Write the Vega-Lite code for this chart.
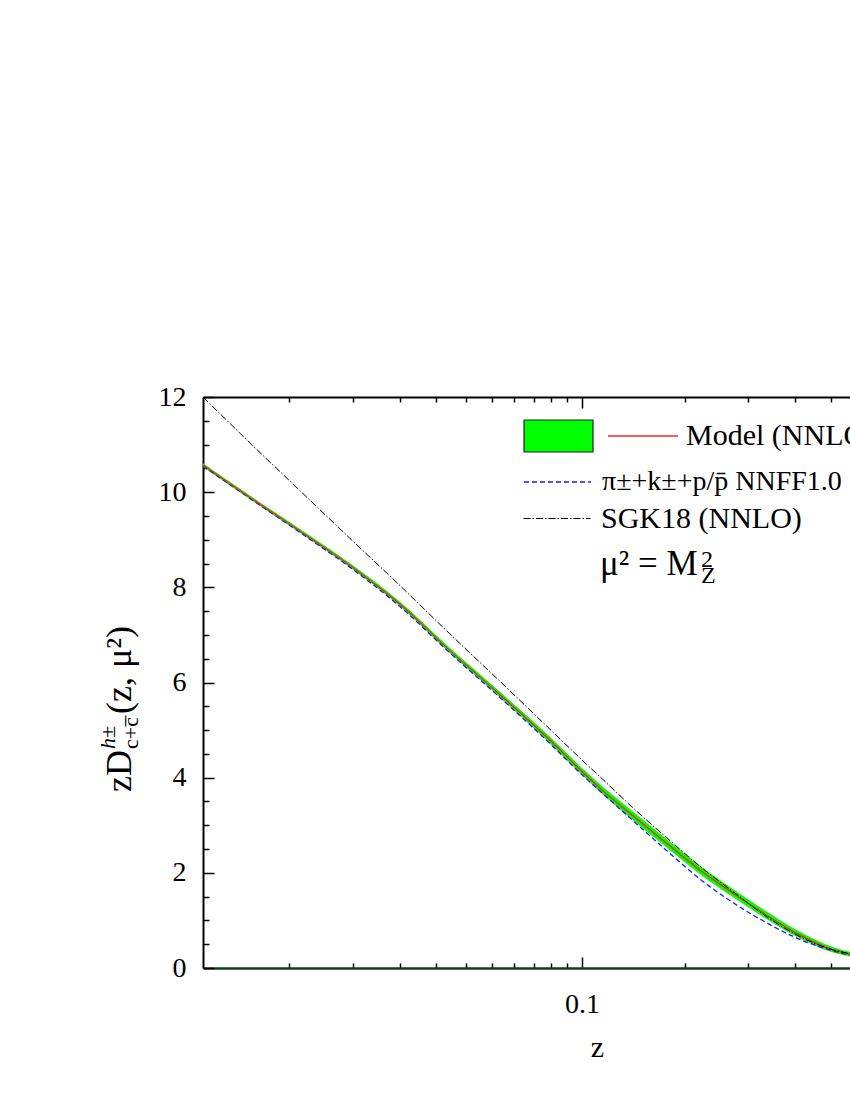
{
  "$schema": "https://vega.github.io/schema/vega-lite/v6.json",
  "width": 647,
  "height": 571,
  "autosize": {"type": "none"},
  "padding": {"left": 203, "top": 397, "right": 0, "bottom": 132},
  "background": "white",
  "datasets": {
    "curves": [
      {"z": 0.011, "red": 10.57, "lo": 10.53, "hi": 10.61, "blue": 10.55, "black": 12.0},
      {"z": 0.0144, "red": 9.90, "lo": 9.86, "hi": 9.94, "blue": 9.88, "black": 11.05},
      {"z": 0.0193, "red": 9.19, "lo": 9.15, "hi": 9.23, "blue": 9.16, "black": 10.04},
      {"z": 0.0258, "red": 8.47, "lo": 8.425, "hi": 8.515, "blue": 8.43, "black": 9.04},
      {"z": 0.0346, "red": 7.65, "lo": 7.60, "hi": 7.70, "blue": 7.60, "black": 8.04},
      {"z": 0.0462, "red": 6.68, "lo": 6.625, "hi": 6.735, "blue": 6.63, "black": 7.03},
      {"z": 0.0619, "red": 5.75, "lo": 5.69, "hi": 5.81, "blue": 5.69, "black": 6.03},
      {"z": 0.0829, "red": 4.79, "lo": 4.72, "hi": 4.86, "blue": 4.72, "black": 5.02},
      {"z": 0.1, "red": 4.13, "lo": 4.055, "hi": 4.205, "blue": 4.06, "black": 4.37},
      {"z": 0.111, "red": 3.78, "lo": 3.70, "hi": 3.86, "blue": 3.72, "black": 4.02},
      {"z": 0.1344, "red": 3.20, "lo": 3.11, "hi": 3.29, "blue": 3.10, "black": 3.37},
      {"z": 0.1636, "red": 2.62, "lo": 2.53, "hi": 2.71, "blue": 2.47, "black": 2.74},
      {"z": 0.1986, "red": 2.06, "lo": 1.97, "hi": 2.15, "blue": 1.87, "black": 2.14},
      {"z": 0.2412, "red": 1.57, "lo": 1.485, "hi": 1.655, "blue": 1.37, "black": 1.60},
      {"z": 0.2929, "red": 1.11, "lo": 1.03, "hi": 1.19, "blue": 0.95, "black": 1.08},
      {"z": 0.3557, "red": 0.69, "lo": 0.62, "hi": 0.76, "blue": 0.60, "black": 0.66},
      {"z": 0.4319, "red": 0.38, "lo": 0.325, "hi": 0.435, "blue": 0.36, "black": 0.38},
      {"z": 0.4761, "red": 0.29, "lo": 0.24, "hi": 0.34, "blue": 0.27, "black": 0.30},
      {"z": 0.55, "red": 0.18, "lo": 0.14, "hi": 0.22, "blue": 0.16, "black": 0.18},
      {"z": 0.65, "red": 0.09, "lo": 0.06, "hi": 0.12, "blue": 0.08, "black": 0.09}
    ]
  },
  "layer": [
    {
      "data": {"name": "curves"},
      "mark": {"type": "area", "interpolate": "monotone", "clip": true},
      "encoding": {
        "x": {
          "field": "z", "type": "quantitative",
          "scale": {"type": "log", "domain": [0.011, 0.4761], "nice": false},
          "axis": {
            "orient": "bottom",
            "values": [0.01818, 0.02636, 0.03455, 0.04273, 0.05091, 0.05909, 0.06727, 0.07545, 0.08364, 0.09182, 0.1, 0.1818, 0.2636, 0.3455, 0.4273],
            "labelExpr": "datum.value == 0.1 ? '0.1' : ''",
            "tickSize": {"condition": {"test": "datum.value == 0.1", "value": -11}, "value": -5},
            "labelPadding": 33,
            "labelFont": "Liberation Serif", "labelFontSize": 28, "labelColor": "black",
            "labelOverlap": false, "labelFlush": false, "labelBound": false,
            "domainColor": "#143d14", "domainWidth": 2.5,
            "tickColor": "black", "tickWidth": 1.5,
            "grid": false,
            "title": "z", "titleFont": "Liberation Serif", "titleFontSize": 30, "titleFontWeight": "normal", "titleColor": "black",
            "titleX": 394, "titleY": 88, "titleAlign": "center", "titleBaseline": "alphabetic"
          }
        },
        "y": {
          "field": "lo", "type": "quantitative",
          "scale": {"domain": [0, 12], "nice": false, "zero": false},
          "axis": {
            "orient": "left",
            "values": [0, 0.5, 1, 1.5, 2, 2.5, 3, 3.5, 4, 4.5, 5, 5.5, 6, 6.5, 7, 7.5, 8, 8.5, 9, 9.5, 10, 10.5, 11, 11.5, 12],
            "labelExpr": "datum.value % 2 == 0 ? format(datum.value, 'd') : ''",
            "tickSize": {"condition": {"test": "datum.value % 2 == 0", "value": -11}, "value": -6},
            "labelPadding": 28,
            "labelFont": "Liberation Serif", "labelFontSize": 28, "labelColor": "black",
            "labelOverlap": false, "labelFlush": false, "labelBound": false,
            "domainColor": "black", "domainWidth": 2,
            "tickColor": "black", "tickWidth": 1.5,
            "grid": false, "title": null
          }
        },
        "y2": {"field": "hi"},
        "fill": {
          "datum": "band",
          "scale": {"range": ["#00ff00"]},
          "legend": {
            "orient": "none", "legendX": 320, "legendY": 3.5,
            "title": null, "labelExpr": "''", "labelOffset": 0,
            "symbolType": "M-1,-0.464L1,-0.464L1,0.464L-1,0.464Z",
            "symbolSize": 4761, "symbolStrokeColor": "#222222", "symbolStrokeWidth": 1.2,
            "symbolFillColor": "#00ff00", "symbolOpacity": 1
          }
        }
      }
    },
    {
      "data": {"name": "curves"},
      "mark": {"type": "line", "interpolate": "monotone", "clip": true, "strokeWidth": 1.3, "strokeDash": [5, 3]},
      "encoding": {
        "x": {"field": "z", "type": "quantitative", "scale": {"type": "log", "domain": [0.011, 0.4761], "nice": false}, "axis": null},
        "y": {"field": "blue", "type": "quantitative", "scale": {"domain": [0, 12], "nice": false, "zero": false}, "axis": null},
        "color": {
          "datum": "π±+k±+p/p̄ NNFF1.0",
          "scale": {"range": ["#1a1aff"]},
          "legend": {
            "orient": "none", "legendX": 320, "legendY": 50.5, "title": null,
            "symbolType": "stroke", "symbolSize": 4489, "symbolStrokeWidth": 1.3, "symbolDash": [5, 3],
            "labelOffset": 10, "labelFontSize": 28
          }
        }
      }
    },
    {
      "data": {"name": "curves"},
      "mark": {"type": "line", "interpolate": "monotone", "clip": true, "strokeWidth": 1.3},
      "encoding": {
        "x": {
          "field": "z", "type": "quantitative", "scale": {"type": "log", "domain": [0.011, 0.4761], "nice": false},
          "axis": {
            "orient": "top",
            "values": [0.01818, 0.02636, 0.03455, 0.04273, 0.05091, 0.05909, 0.06727, 0.07545, 0.08364, 0.09182, 0.1, 0.1818, 0.2636, 0.3455, 0.4273],
            "labels": false,
            "tickSize": {"condition": {"test": "datum.value == 0.1", "value": -11}, "value": -5},
            "domainColor": "black", "domainWidth": 2,
            "tickColor": "black", "tickWidth": 1.5,
            "grid": false, "title": null
          }
        },
        "y": {"field": "red", "type": "quantitative", "scale": {"domain": [0, 12], "nice": false, "zero": false}, "axis": null},
        "color": {
          "datum": "Model (NNLO)",
          "scale": {"range": ["#ff2020"]},
          "legend": {
            "orient": "none", "legendX": 404, "legendY": 3, "title": null,
            "symbolType": "stroke", "symbolSize": 4900, "symbolStrokeWidth": 1.3,
            "labelOffset": 7
          }
        }
      }
    },
    {
      "data": {"name": "curves"},
      "mark": {"type": "line", "interpolate": "monotone", "clip": true, "strokeWidth": 1, "strokeDash": [7, 2, 1.5, 2]},
      "encoding": {
        "x": {"field": "z", "type": "quantitative", "scale": {"type": "log", "domain": [0.011, 0.4761], "nice": false}, "axis": null},
        "y": {"field": "black", "type": "quantitative", "scale": {"domain": [0, 12], "nice": false, "zero": false}, "axis": null},
        "color": {
          "datum": "SGK18 (NNLO)",
          "scale": {"range": ["#000000"]},
          "legend": {
            "orient": "none", "legendX": 320, "legendY": 87.5, "title": null,
            "symbolType": "stroke", "symbolSize": 4489, "symbolStrokeWidth": 1, "symbolDash": [7, 2, 1.5, 2],
            "labelOffset": 10
          }
        }
      }
    },
    {
      "data": {"values": [{}]},
      "mark": {"type": "text", "text": "μ² = M", "font": "Liberation Serif", "fontSize": 35, "align": "left", "baseline": "alphabetic", "color": "black"},
      "encoding": {"x": {"datum": 0.111, "type": "quantitative", "axis": null}, "y": {"datum": 8.26, "type": "quantitative", "axis": null}}
    },
    {
      "data": {"values": [{}]},
      "mark": {"type": "text", "text": "2", "font": "Liberation Serif", "fontSize": 24, "align": "left", "baseline": "alphabetic", "color": "black"},
      "encoding": {"x": {"datum": 0.2, "type": "quantitative", "axis": null}, "y": {"datum": 8.43, "type": "quantitative", "axis": null}}
    },
    {
      "data": {"values": [{}]},
      "mark": {"type": "text", "text": "Z", "font": "Liberation Serif", "fontSize": 24, "align": "left", "baseline": "alphabetic", "color": "black"},
      "encoding": {"x": {"datum": 0.2, "type": "quantitative", "axis": null}, "y": {"datum": 8.09, "type": "quantitative", "axis": null}}
    },
    {
      "data": {"values": [{}]},
      "mark": {"type": "text", "text": "zD", "font": "Liberation Serif", "fontSize": 36, "angle": 270, "align": "left", "baseline": "alphabetic", "color": "black"},
      "encoding": {"x": {"datum": 0.007233, "type": "quantitative", "axis": null}, "y": {"datum": 3.699, "type": "quantitative", "axis": null}}
    },
    {
      "data": {"values": [{}]},
      "mark": {"type": "text", "text": "h±", "font": "Liberation Serif", "fontStyle": "italic", "fontSize": 22, "angle": 270, "align": "left", "baseline": "alphabetic", "color": "black"},
      "encoding": {"x": {"datum": 0.006588, "type": "quantitative", "axis": null}, "y": {"datum": 4.602, "type": "quantitative", "axis": null}}
    },
    {
      "data": {"values": [{}]},
      "mark": {"type": "text", "text": "c+c̅", "font": "Liberation Serif", "fontSize": 22, "angle": 270, "align": "left", "baseline": "alphabetic", "color": "black"},
      "encoding": {"x": {"datum": 0.007534, "type": "quantitative", "axis": null}, "y": {"datum": 4.602, "type": "quantitative", "axis": null}}
    },
    {
      "data": {"values": [{}]},
      "mark": {"type": "text", "text": "(z, μ²)", "font": "Liberation Serif", "fontSize": 36, "angle": 270, "align": "left", "baseline": "alphabetic", "color": "black"},
      "encoding": {"x": {"datum": 0.007233, "type": "quantitative", "axis": null}, "y": {"datum": 5.338, "type": "quantitative", "axis": null}}
    }
  ],
  "resolve": {
    "scale": {"color": "independent", "fill": "independent"},
    "axis": {"x": "independent", "y": "independent"}
  },
  "config": {
    "view": {"stroke": null},
    "legend": {
      "labelFont": "Liberation Serif", "labelFontSize": 30, "labelColor": "black",
      "labelLimit": 600, "padding": 0, "offset": 0, "direction": "vertical"
    }
  }
}
